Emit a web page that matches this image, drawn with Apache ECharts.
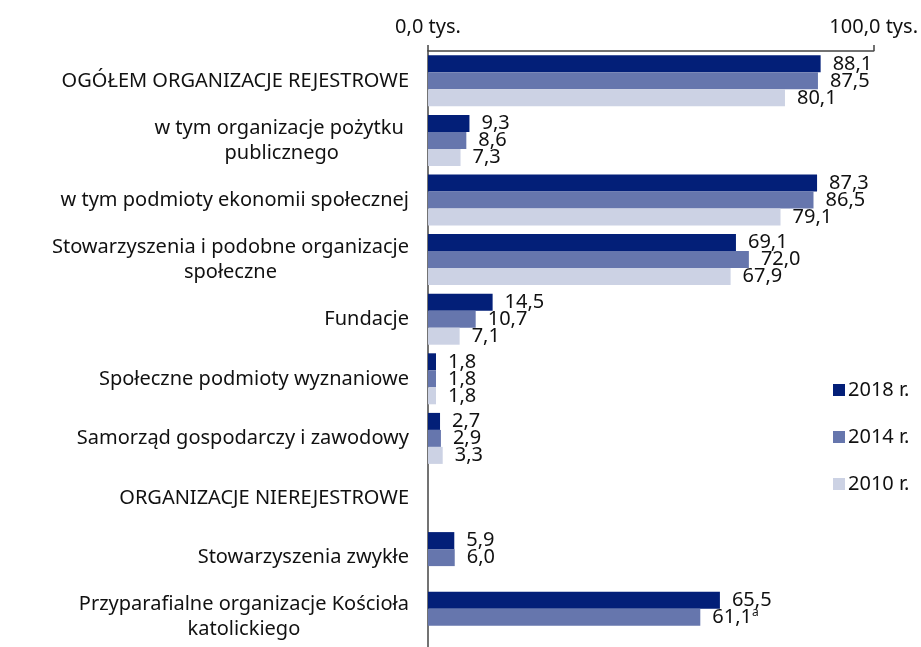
<!DOCTYPE html>
<html>
<head>
<meta charset="utf-8">
<script src="https://cdn.jsdelivr.net/npm/echarts@6/dist/echarts.min.js"></script>
<style>
  html, body { margin: 0; padding: 0; background: #fff; }
  #chart { width: 921px; height: 647px; }
</style>
</head>
<body>
<div id="chart"></div>
<script>
// kategorie (od góry)
const categories = [
    'OGÓŁEM ORGANIZACJE REJESTROWE',
    'w tym organizacje pożytku \npublicznego',
    'w tym podmioty ekonomii społecznej',
    'Stowarzyszenia i podobne organizacje\nspołeczne',
    'Fundacje',
    'Społeczne podmioty wyznaniowe',
    'Samorząd gospodarczy i zawodowy',
    'ORGANIZACJE NIEREJESTROWE',
    'Stowarzyszenia zwykłe',
    'Przyparafialne organizacje Kościoła\nkatolickiego'
]
const years = ['2018 r.', '2014 r.', '2010 r.']
const values2018 = [88.1, 9.3, 87.3, 69.1, 14.5, 1.8, 2.7, null, 5.9, 65.5]
const values2014 = [87.5, 8.6, 86.5, 72.0, 10.7, 1.8, 2.9, null, 6.0, 61.1]
const values2010 = [80.1, 7.3, 79.1, 67.9, 7.1, 1.8, 3.3, null, null, null]
// przypisy przy wartościach (2014 r., Przyparafialne)
const notes2014 = [null, null, null, null, null, null, null, null, null, 'a']
const axisTicks = [0, 100]

const colors = ['#031f78', '#6676ad', '#ccd2e4']
const font = '"Noto Sans", sans-serif'
const txt = '#111'

function fmt(v) {
    return v.toFixed(1).replace('.', ',')
}

function makeSeries(name, data, color, notes) {
    return {
        name: name,
        type: 'bar',
        barWidth: 17,
        barGap: '0%',
        itemStyle: { color: color },
        data: data,
        label: {
            show: true,
            position: 'right',
            distance: 12,
            fontFamily: font,
            fontSize: 20,
            color: txt,
            formatter: p => {
                if (p.value == null) return ''
                let note = notes && notes[p.dataIndex]
                return note ? '{v|' + fmt(p.value) + '}{s|' + note + '}' : fmt(p.value)
            },
            rich: {
                v: { fontFamily: font, fontSize: 20, color: txt },
                s: { fontFamily: font, fontSize: 12, color: txt, verticalAlign: 'top', padding: [0, 0, 10, 0] }
            }
        }
    }
}

const chart = echarts.init(document.getElementById('chart'))
chart.setOption({
    animation: false,
    textStyle: { fontFamily: font },
    grid: { left: 428, right: 46, top: 51, height: 601, containLabel: false },
    legend: {
        orient: 'vertical',
        left: 828,
        top: 375,
        itemWidth: 12,
        itemHeight: 12,
        itemGap: 27,
        icon: 'rect',
        textStyle: { fontFamily: font, fontSize: 20, color: txt, padding: [0, 0, 0, -2] },
        data: years
    },
    xAxis: {
        type: 'value',
        position: 'top',
        min: axisTicks[0],
        max: axisTicks[1],
        interval: 100,
        axisLine: { show: true, lineStyle: { color: '#444', width: 1.5 } },
        axisTick: { show: true, length: 6, lineStyle: { color: '#444', width: 1.5 } },
        splitLine: { show: false },
        axisLabel: {
            margin: 14,
            fontFamily: font,
            fontSize: 20,
            color: txt,
            formatter: v => fmt(v) + ' tys.'
        }
    },
    yAxis: {
        type: 'category',
        inverse: true,
        data: categories,
        axisLine: { show: true, lineStyle: { color: '#444', width: 1.5 } },
        axisTick: { show: false },
        axisLabel: {
            margin: 19,
            align: 'right',
            fontFamily: font,
            fontSize: 20,
            lineHeight: 25,
            color: txt,
            formatter: v => v.split('\n').map(s => '{c|' + s + '}').join('\n'),
            rich: {
                c: { align: 'center', fontFamily: font, fontSize: 20, lineHeight: 25, color: txt }
            }
        }
    },
    series: [
        makeSeries(years[0], values2018, colors[0]),
        makeSeries(years[1], values2014, colors[1], notes2014),
        makeSeries(years[2], values2010, colors[2])
    ]
})
</script>
</body>
</html>
